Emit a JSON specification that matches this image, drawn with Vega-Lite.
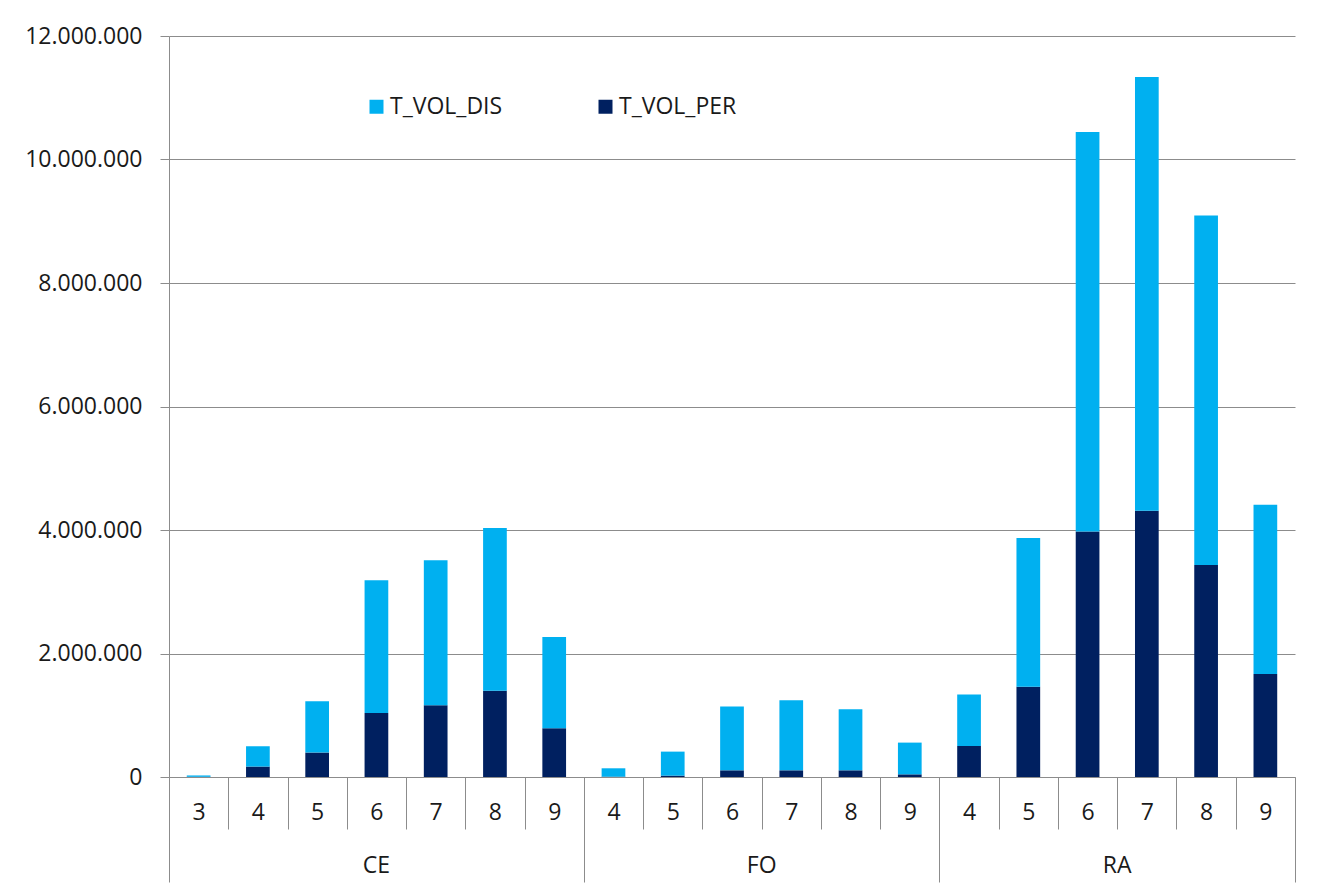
{
  "$schema": "https://vega.github.io/schema/vega-lite/v6.json",
  "width": 1126,
  "height": 741,
  "autosize": "none",
  "padding": {"left": 169, "top": 36, "right": 46, "bottom": 114},
  "background": "white",
  "config": {
    "locale": {"number": {"decimal": ",", "thousands": ".", "grouping": [3], "currency": ["", " €"]}},
    "view": {"stroke": null},
    "font": "Open Sans"
  },
  "data": {
    "values": [
      {"cat": "CE|3", "series": "T_VOL_PER", "v": 3000},
      {"cat": "CE|3", "series": "T_VOL_DIS", "v": 22000},
      {"cat": "CE|4", "series": "T_VOL_PER", "v": 169000},
      {"cat": "CE|4", "series": "T_VOL_DIS", "v": 329000},
      {"cat": "CE|5", "series": "T_VOL_PER", "v": 396000},
      {"cat": "CE|5", "series": "T_VOL_DIS", "v": 832000},
      {"cat": "CE|6", "series": "T_VOL_PER", "v": 1038000},
      {"cat": "CE|6", "series": "T_VOL_DIS", "v": 2148000},
      {"cat": "CE|7", "series": "T_VOL_PER", "v": 1163000},
      {"cat": "CE|7", "series": "T_VOL_DIS", "v": 2347000},
      {"cat": "CE|8", "series": "T_VOL_PER", "v": 1395000},
      {"cat": "CE|8", "series": "T_VOL_DIS", "v": 2639000},
      {"cat": "CE|9", "series": "T_VOL_PER", "v": 790000},
      {"cat": "CE|9", "series": "T_VOL_DIS", "v": 1476000},
      {"cat": "FO|4", "series": "T_VOL_PER", "v": 5000},
      {"cat": "FO|4", "series": "T_VOL_DIS", "v": 136000},
      {"cat": "FO|5", "series": "T_VOL_PER", "v": 22000},
      {"cat": "FO|5", "series": "T_VOL_DIS", "v": 389000},
      {"cat": "FO|6", "series": "T_VOL_PER", "v": 108000},
      {"cat": "FO|6", "series": "T_VOL_DIS", "v": 1033000},
      {"cat": "FO|7", "series": "T_VOL_PER", "v": 108000},
      {"cat": "FO|7", "series": "T_VOL_DIS", "v": 1136000},
      {"cat": "FO|8", "series": "T_VOL_PER", "v": 108000},
      {"cat": "FO|8", "series": "T_VOL_DIS", "v": 990000},
      {"cat": "FO|9", "series": "T_VOL_PER", "v": 43000},
      {"cat": "FO|9", "series": "T_VOL_DIS", "v": 514000},
      {"cat": "RA|4", "series": "T_VOL_PER", "v": 503000},
      {"cat": "RA|4", "series": "T_VOL_DIS", "v": 832000},
      {"cat": "RA|5", "series": "T_VOL_PER", "v": 1460000},
      {"cat": "RA|5", "series": "T_VOL_DIS", "v": 2412000},
      {"cat": "RA|6", "series": "T_VOL_PER", "v": 3974000},
      {"cat": "RA|6", "series": "T_VOL_DIS", "v": 6473000},
      {"cat": "RA|7", "series": "T_VOL_PER", "v": 4310000},
      {"cat": "RA|7", "series": "T_VOL_DIS", "v": 7027000},
      {"cat": "RA|8", "series": "T_VOL_PER", "v": 3434000},
      {"cat": "RA|8", "series": "T_VOL_DIS", "v": 5658000},
      {"cat": "RA|9", "series": "T_VOL_PER", "v": 1666000},
      {"cat": "RA|9", "series": "T_VOL_DIS", "v": 2741000}
    ]
  },
  "layer": [
    {
      "mark": {"type": "bar", "width": {"band": 0.4}},
      "encoding": {
        "x": {
          "field": "cat",
          "type": "nominal",
          "sort": null,
          "scale": {"paddingInner": 0, "paddingOuter": 0},
          "axis": {
            "orient": "bottom",
            "title": null,
            "tickBand": "extent",
            "tickSize": {"condition": {"test": "datum.extra || indexof(['CE|9','FO|9','RA|9'], datum.value) >= 0", "value": 105}, "value": 52},
            "labelPadding": {"condition": {"test": "datum.extra || indexof(['CE|9','FO|9','RA|9'], datum.value) >= 0", "value": -70}, "value": -17},
            "labelBaseline": "middle",
            "labelAngle": 0,
            "labelExpr": "substring(datum.label, 3)",
            "labelFont": "Open Sans",
            "labelFontSize": 23,
            "labelColor": "#1a1a1a",
            "tickColor": "#8c8c8c",
            "tickWidth": 1,
            "domainColor": "#8c8c8c",
            "domainWidth": 1,
            "grid": false
          }
        },
        "y": {
          "field": "v",
          "type": "quantitative",
          "stack": "zero",
          "scale": {"domain": [0, 12000000], "nice": false},
          "axis": {
            "title": null,
            "values": [0, 2000000, 4000000, 6000000, 8000000, 10000000, 12000000],
            "format": ",d",
            "grid": true,
            "gridColor": "#8c8c8c",
            "gridWidth": 1,
            "domainColor": "#8c8c8c",
            "tickColor": "#8c8c8c",
            "tickSize": 9,
            "labelPadding": 18,
            "labelFont": "Open Sans",
            "labelFontSize": 23,
            "labelColor": "#1a1a1a"
          }
        },
        "color": {
          "field": "series",
          "type": "nominal",
          "scale": {"domain": ["T_VOL_DIS", "T_VOL_PER"], "range": ["#00B0F0", "#002060"]},
          "legend": {
            "title": null,
            "orient": "none",
            "legendX": 196,
            "legendY": 59,
            "direction": "horizontal",
            "symbolType": "square",
            "symbolSize": 196,
            "symbolStrokeWidth": 0,
            "labelFont": "Open Sans",
            "labelFontSize": 23,
            "labelColor": "#1a1a1a",
            "labelOffset": 2,
            "columnPadding": 91,
            "padding": 0
          }
        },
        "order": {"field": "series", "sort": "descending"}
      }
    },
    {
      "mark": {"type": "point", "opacity": 0},
      "encoding": {
        "x": {
          "field": "cat",
          "type": "nominal",
          "sort": null,
          "axis": {
            "orient": "bottom",
            "title": null,
            "ticks": false,
            "domain": false,
            "grid": false,
            "values": ["CE|6", "FO|6", "RA|6"],
            "labelExpr": "substring(datum.label, 0, 2)",
            "labelOffset": {"condition": {"test": "datum.value != 'CE|6'", "value": 29.63}, "value": 0},
            "labelPadding": 88,
            "labelBaseline": "middle",
            "labelAngle": 0,
            "labelFont": "Open Sans",
            "labelFontSize": 23,
            "labelColor": "#1a1a1a"
          }
        }
      }
    }
  ],
  "resolve": {"axis": {"x": "independent"}}
}
